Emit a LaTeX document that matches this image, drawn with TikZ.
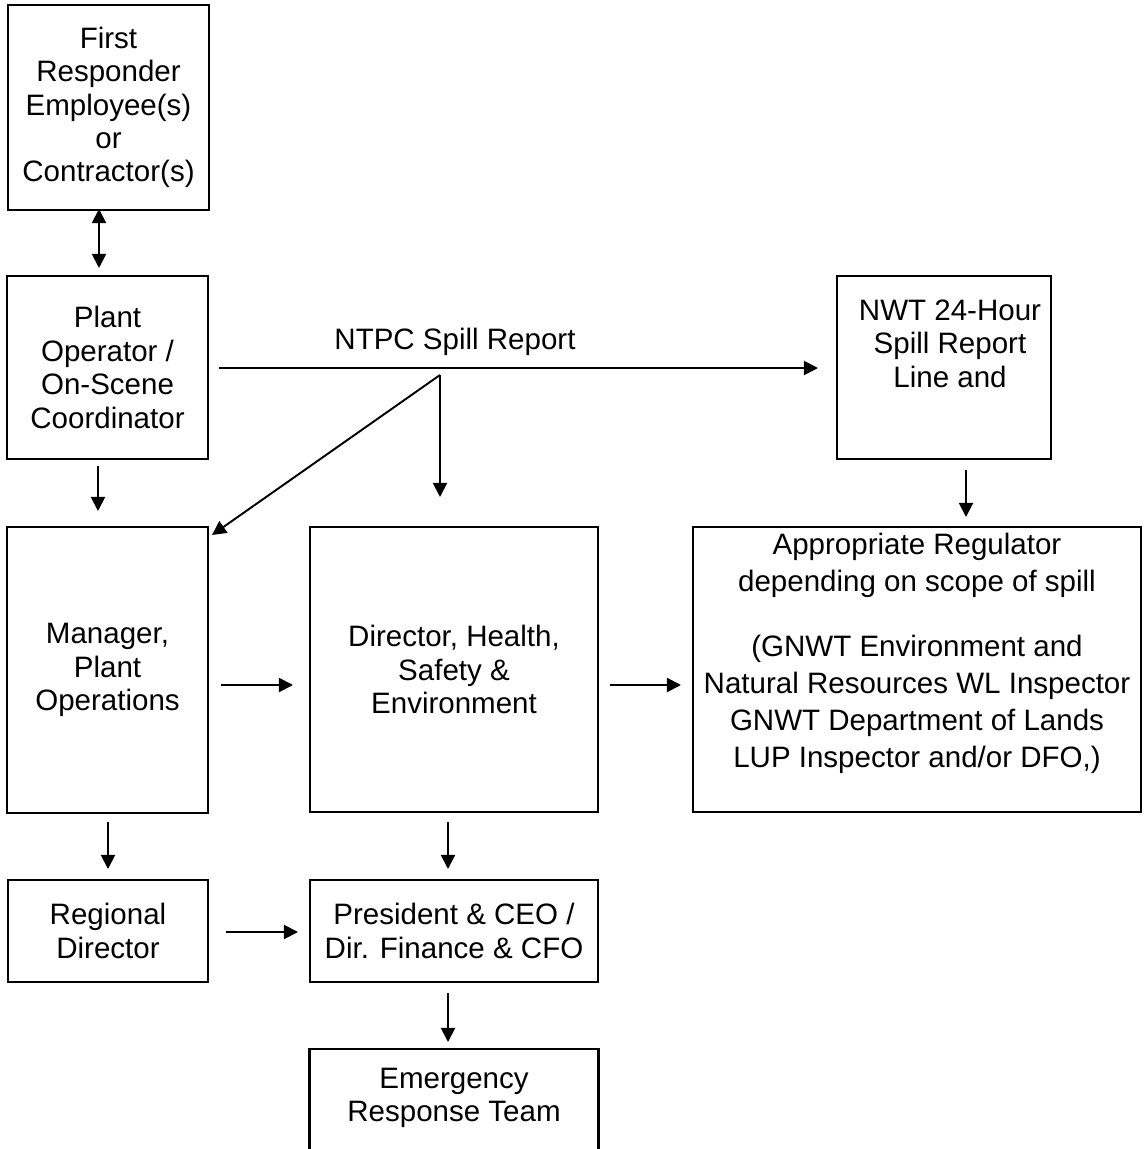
\documentclass[tikz,border=0pt]{standalone}
\usepackage{fontspec}
\setmainfont{Liberation Sans}
\usetikzlibrary{arrows.meta}
\tikzset{
    box/.style = {rectangle, draw=black, line width=1.6pt, align=center, inner sep=0pt, font=\fontsize{16.8}{19}\selectfont},
    txt/.style = {align=center, inner sep=0pt, font=\fontsize{16.8}{19}\selectfont},
    arr/.style = {-{Triangle[length=8pt, width=8pt]}, line width=1.1pt},
    darr/.style = {{Triangle[length=8pt, width=8pt]}-{Triangle[length=8pt, width=8pt]}, line width=1.1pt}
}

\begin{document}
\begin{tikzpicture}[x=0.02cm, y=-0.02cm]
    \useasboundingbox (0,0) rectangle (1143,1149);
    \clip (0,0) rectangle (1143,1149);
    % boxes
    \node [box, minimum width=4.02cm, minimum height=4.1cm] (resp) at (108.5,107.5) {First\\Responder\\Employee(s)\\or\\Contractor(s)};
    \node [box, minimum width=4.02cm, minimum height=3.66cm] (plantop) at (107.5,367.5) {Plant\\Operator /\\On-Scene\\Coordinator};
    \node [box, minimum width=4.28cm, minimum height=3.66cm] (nwt) at (944,367.5) {};
    \node [txt] (nwttext) at (950,343.5) {NWT 24-Hour\\Spill Report\\Line and};
    \node [box, minimum width=4.02cm, minimum height=5.72cm] (manager) at (107.5,670) {Manager,\\Plant\\Operations};
    \node [box, minimum width=5.76cm, minimum height=5.7cm] (hse) at (454,669.5) {Director, Health,\\Safety \&\\Environment};
    \node [box, minimum width=8.96cm, minimum height=5.7cm] (reg) at (917,669.5) {};
    \node [txt, font=\fontsize{16.8}{21}\selectfont] (regtext) at (917,653.5) {Appropriate Regulator\\depending on scope of spill\\[16pt](GNWT Environment and\\Natural Resources WL Inspector\\GNWT Department of Lands\\LUP Inspector and/or DFO,)};
    \node [box, minimum width=4cm, minimum height=2.04cm] (regdir) at (108,931) {Regional\\Director};
    \node [box, minimum width=5.76cm, minimum height=2.04cm] (pres) at (454,931) {President \& CEO /\\Dir. Finance \& CFO};
    \node [box, minimum width=5.78cm, minimum height=2.2cm] (ert) at (454,1104) {};
    \node [txt] (erttext) at (454,1098) {Emergency\\Response Team};
    \node [txt] (spill) at (455,342) {NTPC Spill Report};
    % arrow ends
    \coordinate (r1) at (99,209);   \coordinate (r2) at (99,268);
    \coordinate (s0) at (219,368);  \coordinate (s1) at (818,368);
    \coordinate (s2) at (440,375);  \coordinate (s3) at (212,535);
    \coordinate (s4) at (440,497);
    \coordinate (p1) at (98,466);   \coordinate (p2) at (98,511);
    \coordinate (n1) at (966,470);  \coordinate (n2) at (966,517);
    \coordinate (m1) at (221,685);  \coordinate (m2) at (293,685);
    \coordinate (h1) at (610,685);  \coordinate (h2) at (681,685);
    \coordinate (m3) at (108,822);  \coordinate (m4) at (108,869);
    \coordinate (h3) at (448,822);  \coordinate (h4) at (448,869);
    \coordinate (g1) at (226,932);  \coordinate (g2) at (298,932);
    \coordinate (c1) at (448,993);  \coordinate (c2) at (448,1042);
    % arrows
    \draw [darr] (r1) -- (r2);
    \draw [arr] (s0) -- (s1);
    \draw [arr] (s2) -- (s3);
    \draw [arr] (s2) -- (s4);
    \draw [arr] (p1) -- (p2);
    \draw [arr] (n1) -- (n2);
    \draw [arr] (m1) -- (m2);
    \draw [arr] (h1) -- (h2);
    \draw [arr] (m3) -- (m4);
    \draw [arr] (h3) -- (h4);
    \draw [arr] (g1) -- (g2);
    \draw [arr] (c1) -- (c2);
\end{tikzpicture}
\end{document}
